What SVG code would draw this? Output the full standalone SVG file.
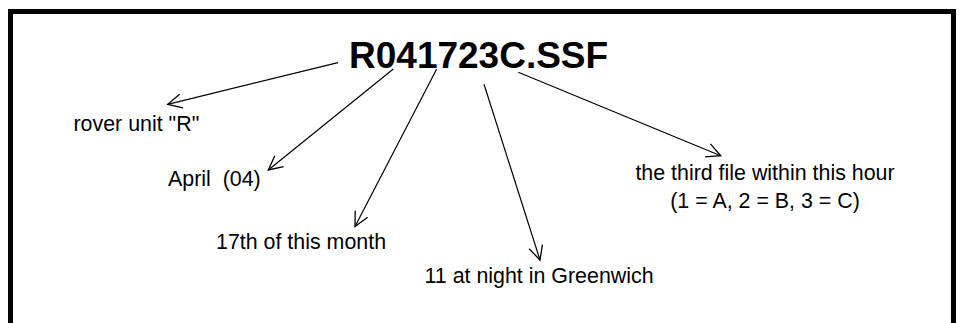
<svg xmlns="http://www.w3.org/2000/svg" width="960" height="323" viewBox="0 0 960 323">
<style>
.frame{fill:#fff;stroke:#000;stroke-width:5}
.t{font-family:"Liberation Sans",Arial,sans-serif;font-size:21.4px;fill:#000}
.title{font-family:"Liberation Sans",Arial,sans-serif;font-size:37px;font-weight:bold;fill:#000}
.c{stroke:#000;stroke-width:1.2;fill:none;marker-end:url(#ah)}
</style>
<defs>
<marker id="ah" viewBox="-16 -9 18 18" refX="0" refY="0" markerWidth="18" markerHeight="18" markerUnits="userSpaceOnUse" orient="auto">
<path d="M-14,-7 L0,0 L-14,7" fill="none" stroke="#000" stroke-width="1.3"/>
</marker>
</defs>
<rect width="960" height="323" fill="#fff"/>
<rect class="frame" x="10.5" y="11.5" width="943" height="340"/>
<g id="filename"><text class="title" x="349" y="68.3">R041723C.SSF</text></g>
<g id="rover"><text class="t" x="73.5" y="130.5">rover unit "R"</text></g>
<g id="month"><text class="t" x="168" y="186" xml:space="preserve">April  (04)</text></g>
<g id="day"><text class="t" x="216" y="249">17th of this month</text></g>
<g id="hour"><text class="t" x="424.5" y="283">11 at night in Greenwich</text></g>
<g id="seq"><text class="t" x="765" y="180" text-anchor="middle">the third file within this hour</text><text class="t" x="765" y="208" text-anchor="middle">(1 = A, 2 = B, 3 = C)</text></g>
<g id="connectors">
<line class="c" x1="338" y1="62.7" x2="167.7" y2="104.3"/>
<line class="c" x1="393.3" y1="69" x2="268.3" y2="170"/>
<line class="c" x1="436.7" y1="69" x2="355" y2="226.5"/>
<line class="c" x1="484" y1="84.3" x2="540" y2="260"/>
<line class="c" x1="518.3" y1="72.3" x2="720.7" y2="155.7"/>
</g>
</svg>
